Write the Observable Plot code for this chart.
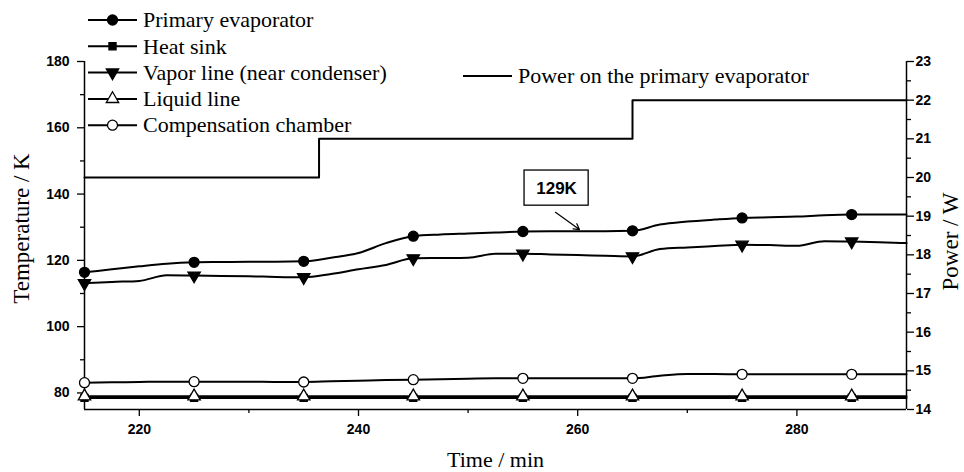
<!DOCTYPE html>
<html><head><meta charset="utf-8">
<script src="https://cdn.jsdelivr.net/npm/d3@7"></script>
<script src="https://cdn.jsdelivr.net/npm/@observablehq/plot@0.6"></script>
<style>
body{margin:0;background:#fff;}
#wrap{position:relative;width:964px;height:472px;}
#legend{position:absolute;left:0;top:0;pointer-events:none;}
</style></head><body><div id="wrap"></div>
<script>
// ---- data ----
const time = [215,217.5,220,222.5,225,227.5,230,232.5,235,237.5,240,242.5,245,247.5,250,252.5,255,257.5,260,262.5,265,267.5,270,272.5,275,277.5,280,282.5,285,287.5,290];
const primary = [116.4,117.3,118.2,119.0,119.4,119.5,119.6,119.6,119.7,120.8,122.2,125.2,127.3,127.8,128.1,128.4,128.7,128.8,128.8,128.8,128.9,130.8,131.7,132.3,132.8,133.0,133.2,133.6,133.8,133.8,133.8];
const heatSink = [78.5,78.5,78.5,78.5,78.5,78.5,78.5,78.5,78.5,78.5,78.5,78.5,78.5,78.5,78.5,78.5,78.5,78.5,78.5,78.5,78.5,78.5,78.5,78.5,78.5,78.5,78.5,78.5,78.5,78.5,78.5];
const vapor = [113.1,113.5,113.8,115.5,115.4,115.3,115.2,115.0,114.9,115.9,117.3,118.6,120.6,120.7,120.8,122.0,122.0,121.8,121.6,121.4,121.2,123.4,123.9,124.3,124.7,124.6,124.4,125.8,125.7,125.5,125.2];
const liquid = [79.0,79.0,79.0,79.0,79.0,79.0,79.0,79.0,79.0,79.0,79.0,79.0,79.0,79.0,79.0,79.0,79.0,79.0,79.0,79.0,79.0,79.0,79.0,79.0,79.0,79.0,79.0,79.0,79.0,79.0,79.0];
const compensation = [83.1,83.2,83.3,83.4,83.4,83.4,83.4,83.3,83.3,83.5,83.7,83.9,84.0,84.1,84.3,84.4,84.4,84.4,84.4,84.4,84.4,85.2,85.7,85.7,85.6,85.6,85.6,85.6,85.6,85.6,85.6];
const seriesNames = ["Primary evaporator","Heat sink","Vapor line (near condenser)","Liquid line","Compensation chamber"];
const seriesValues = [primary, heatSink, vapor, liquid, compensation];
const markerTimes = [215,225,235,245,255,265,275,285];

const powerTimes = [215, 236.4, 265, 290];
const powerValues = [20, 21, 22, 22];
const powerLabel = "Power on the primary evaporator";

const tempTicks = [80,100,120,140,160,180];
const tempMinor = [90,110,130,150,170];
const powerTicks = [14,15,16,17,18,19,20,21,22,23];
const powerMinor = [14.5,15.5,16.5,17.5,18.5,19.5,20.5,21.5,22.5];
const timeTicks = [220,240,260,280];
const timeMinor = [230,250,270];

const annotText = "129K";
const annotBox = {x1:255.15, x2:261.0, y1:136.5, y2:147.1};
const annotPos = {t:258.07, T:141.8};
const annotArrow = {t1:257.97, T1:134.5, t2:260.16, T2:129.3};

// ---- helpers ----
const tMin = 75, tMax = 180, pMin = 14, pMax = 23;
const toT = p => tMin + (p - pMin) * (tMax - tMin) / (pMax - pMin);
const toP = T => pMin + (T - tMin) * (pMax - pMin) / (tMax - tMin);

const triangleDown = {
  draw(ctx, size) {
    const s3 = Math.sqrt(3);
    const y = -Math.sqrt(size / (s3 * 3));
    ctx.moveTo(0, -2 * y);
    ctx.lineTo(-s3 * y, y);
    ctx.lineTo(s3 * y, y);
    ctx.closePath();
  }
};
const styles = {
  "Primary evaporator": {symbol:"circle", r:5, fill:"black"},
  "Heat sink": {symbol:"square", r:4, fill:"black"},
  "Vapor line (near condenser)": {symbol:triangleDown, r:4.6, fill:"black"},
  "Liquid line": {symbol:"triangle", r:4.6, fill:"white"},
  "Compensation chamber": {symbol:"circle", r:5, fill:"white"}
};

const rows = seriesNames.flatMap((name, i) => time.map((t, j) => ({series:name, t, T:seriesValues[i][j]})));
const markers = rows.filter(d => markerTimes.includes(d.t));
const powerRows = powerTimes.map((t, i) => ({t, P:powerValues[i]}));

const serif = "'Liberation Serif','Times New Roman',serif";
const sans = "'Liberation Sans',Arial,sans-serif";

const drawOrder = ["Primary evaporator","Vapor line (near condenser)","Compensation chamber","Heat sink","Liquid line"];

const plot = Plot.plot({
  width: 964, height: 472,
  marginLeft: 84, marginRight: 58, marginTop: 61, marginBottom: 63,
  style: {fontFamily: sans, fontSize: "14px", fontWeight: "bold", background: "white", color: "black"},
  x: {domain: [215, 290]},
  y: {domain: [tMin, tMax]},
  marks: [
    // axes
    Plot.axisY({ticks: tempTicks, tickSize: 7, tickPadding: 8, strokeWidth: 1.3, label: null, fontSize: 14, fontWeight: "bold"}),
    Plot.axisY({ticks: tempMinor, tickSize: 4, strokeWidth: 1.3, tickFormat: () => "", label: null}),
    Plot.axisY({anchor: "right", ticks: powerTicks.map(toT), tickFormat: T => d3.format("d")(Math.round(toP(T))), tickSize: 7, tickPadding: 2, strokeWidth: 1.3, label: null, fontSize: 14, fontWeight: "bold"}),
    Plot.axisY({anchor: "right", ticks: powerMinor.map(toT), tickSize: 4, strokeWidth: 1.3, tickFormat: () => "", label: null}),
    Plot.axisX({ticks: timeTicks, tickSize: 7, tickPadding: 8, strokeWidth: 1.3, label: null, fontSize: 14, fontWeight: "bold"}),
    Plot.axisX({ticks: timeMinor, tickSize: 4, strokeWidth: 1.3, tickFormat: () => "", label: null}),
    Plot.ruleX([215, 290], {strokeWidth: 1.5}),
    Plot.ruleY([tMin], {strokeWidth: 1.5}),
    // axis titles
    Plot.text(["Temperature / K"], {frameAnchor: "left", textAnchor: "middle", lineAnchor: "middle", dx: -63, dy: -7, rotate: -90, fontSize: 23, fontFamily: serif, fontWeight: "normal"}),
    Plot.text(["Power / W"], {frameAnchor: "right", textAnchor: "middle", lineAnchor: "middle", dx: 44, dy: 6, rotate: -90, fontSize: 23, fontFamily: serif, fontWeight: "normal"}),
    Plot.text(["Time / min"], {frameAnchor: "bottom", textAnchor: "middle", lineAnchor: "middle", dy: 50, fontSize: 22, fontFamily: serif, fontWeight: "normal"}),
    // power
    Plot.line(powerRows, {x: "t", y: d => toT(d.P), curve: "step-after", stroke: "black", strokeWidth: 2}),
    // series lines
    ...drawOrder.map(name => Plot.line(rows.filter(d => d.series === name), {x: "t", y: "T", curve: "monotone-x", stroke: "black", strokeWidth: 2})),
    // markers
    ...drawOrder.map(name => Plot.dot(markers.filter(d => d.series === name), {x: "t", y: "T", symbol: styles[name].symbol, r: styles[name].r, fill: styles[name].fill, stroke: "black", strokeWidth: 1.3})),
    // annotation
    Plot.rect([annotBox], {x1: "x1", x2: "x2", y1: "y1", y2: "y2", fill: "white", stroke: "black", strokeWidth: 1.3}),
    Plot.text([annotPos], {x: "t", y: "T", text: () => annotText, fontSize: 17, fontWeight: "bold", fontFamily: sans}),
    Plot.arrow([annotArrow], {x1: "t1", y1: "T1", x2: "t2", y2: "T2", stroke: "black", strokeWidth: 1.2, headLength: 8})
  ]
});
document.getElementById("wrap").appendChild(plot);

// ---- legend overlay ----
const lg = d3.select("#wrap").append("svg").attr("id", "legend").attr("width", 964).attr("height", 472);
const legendItems = seriesNames.map((name, i) => ({name, i}));
const rowY = i => 20 + i * 26.3;
const g = lg.selectAll("g.item").data(legendItems).join("g").attr("class", "item")
  .attr("transform", d => `translate(0,${rowY(d.i)})`);
g.append("line").attr("x1", 88).attr("x2", 137).attr("y1", 0).attr("y2", 0).attr("stroke", "black").attr("stroke-width", 2);
g.append("path").attr("transform", "translate(112.5,0)")
  .attr("d", d => {
    const st = styles[d.name];
    const sym = typeof st.symbol === "string" ? {circle: d3.symbolCircle, square: d3.symbolSquare, triangle: d3.symbolTriangle}[st.symbol] : st.symbol;
    return d3.symbol(sym, st.r * st.r * Math.PI)();
  })
  .attr("fill", d => styles[d.name].fill).attr("stroke", "black").attr("stroke-width", 1.3);
g.append("text").attr("x", 143).attr("y", 0).attr("dy", "0.33em")
  .attr("font-family", serif).attr("font-size", 22).text(d => d.name);
const pg = lg.append("g").attr("transform", "translate(0,76)");
pg.append("line").attr("x1", 463).attr("x2", 512).attr("stroke", "black").attr("stroke-width", 2);
pg.append("text").attr("x", 518).attr("dy", "0.33em").attr("font-family", serif).attr("font-size", 22).text(powerLabel);
</script>
</body></html>
